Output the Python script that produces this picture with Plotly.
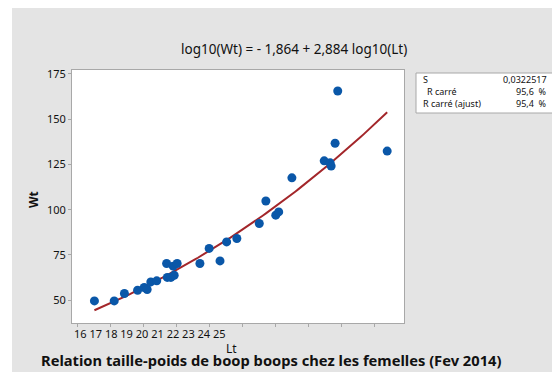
import numpy as np
import plotly.graph_objects as go

# ---- data ----
lt = [16.51, 17.11, 17.42, 17.82, 18.02, 18.11, 18.22, 18.40, 18.70, 18.72,
      18.83, 18.93, 18.90, 19.02, 19.71, 19.99, 20.32, 20.52, 20.83, 21.51,
      21.71, 22.01, 22.10, 22.50, 23.48, 23.66, 23.69, 23.81, 23.89, 25.39]
wt = [49.6, 49.6, 53.7, 55.5, 57.0, 55.9, 60.1, 60.7, 70.3, 62.6,
      62.6, 63.8, 68.8, 70.3, 70.3, 78.6, 71.7, 82.2, 84.1, 92.4,
      104.8, 97.0, 98.8, 117.6, 127.0, 125.9, 124.1, 136.7, 165.6, 132.4]
intercept = -1.864
slope = 2.884
x_ticks = [16, 17, 18, 19, 20, 21, 22, 23, 24, 25]
y_ticks = [50, 75, 100, 125, 150, 175]
stats_labels = ["S", "R carré", "R carré (ajust)"]
stats_values = ["0,0322517", "95,6  %", "95,4  %"]

# fitted model curve from the stated regression
lt_fit = np.linspace(min(lt), max(lt), 100)
wt_fit = 10 ** (intercept + slope * np.log10(lt_fit))

OFF = 8  # page body margin
W, H = 560 - OFF, 372 - OFF
# plot area in page pixels
L, R, T, B = 72, 404, 70, 323
PW, PH = R - L, B - T


def px(x):
    return (x - L) / PW


def py(y):
    return (B - y) / PH


FONT = "Noto Sans"
fig = go.Figure()
fig.add_trace(go.Scatter(x=lt_fit, y=wt_fit, mode="lines",
                         line=dict(color="#A3262A", width=2), hoverinfo="skip"))
fig.add_trace(go.Scatter(x=lt, y=wt, mode="markers",
                         marker=dict(color="#0A57A8", size=9, symbol="circle",
                                     line=dict(width=0))))

shapes = [
    dict(type="rect", xref="paper", yref="paper", layer="below",
         x0=px(0), x1=px(12), y0=py(400), y1=py(0),
         fillcolor="white", line=dict(width=0)),
    dict(type="rect", xref="paper", yref="paper",
         x0=px(416), x1=px(553), y0=py(113), y1=py(73),
         fillcolor="white", line=dict(color="#A8A8A8", width=1)),
]


def note(text, x, y, size, xanchor="center", angle=0):
    return dict(text=text, x=px(x), y=py(y), xref="paper", yref="paper",
                xanchor=xanchor, yanchor="middle", showarrow=False,
                textangle=angle, font=dict(family=FONT, size=size, color="#111"))


ann = [
    note("log10(Wt) = - 1,864 + 2,884 log10(Lt)", 294, 49, 13.5),
    note("<b>Relation taille-poids de boop boops chez les femelles (Fev 2014)</b>",
         271, 360, 14.7),
    note("Lt", 231, 348, 12),
    note("<b>Wt</b>", 34, 200, 12, angle=-90),
    note(" ".join(str(v) for v in x_ticks), 72, 333, 11, xanchor="left"),
]
row_y = [79, 91, 103]
label_x = [421, 425, 421]
for lab, val, yy, xx in zip(stats_labels, stats_values, row_y, label_x):
    ann.append(note(lab, xx, yy, 9, xanchor="left"))
    ann.append(note(val, 549, yy, 9, xanchor="right"))

fig.update_layout(
    width=W, height=H,
    margin=dict(l=L - OFF, r=560 - R, t=T - OFF, b=372 - B, pad=0),
    paper_bgcolor="#E4E4E4", plot_bgcolor="white",
    showlegend=False, shapes=shapes, annotations=ann,
    font=dict(family=FONT, size=11, color="#111"),
)
axis_common = dict(showgrid=False, zeroline=False, showline=True, mirror=True,
                   linecolor="#A8A8A8", linewidth=1, ticks="outside", ticklen=3,
                   tickcolor="#A8A8A8")
fig.update_xaxes(range=[15.83, 25.9], tickvals=x_ticks, showticklabels=False,
                 **axis_common)
fig.update_yaxes(range=[37.4, 177.2], tickvals=y_ticks,
                 tickfont=dict(family=FONT, size=11, color="#111"), **axis_common)

fig.write_html("out.html")
